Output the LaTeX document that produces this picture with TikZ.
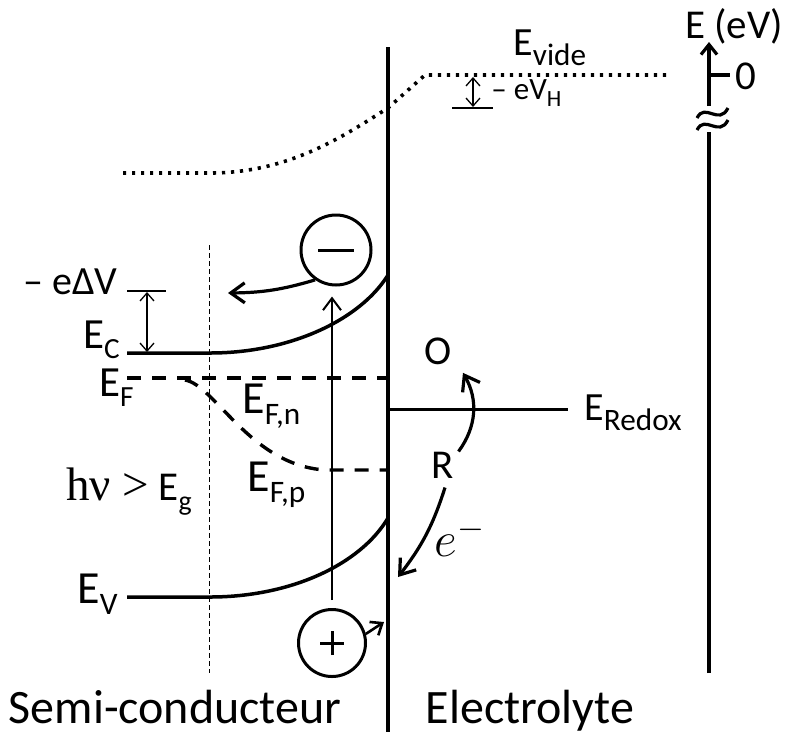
\documentclass[tikz,border=0pt]{standalone}
\usepackage{fontspec}
\setmainfont{Carlito}
\newfontfamily\timesfont{Liberation Serif}
\usetikzlibrary{arrows.meta}
\newcommand{\lsub}[2][0.68]{\raisebox{-0.25em}{\scalebox{#1}{#2}}}

\begin{document}
\begin{tikzpicture}[x=0.5pt, y=-0.5pt, line cap=butt,
  font=\fontsize{23}{27}\selectfont,
  lbl/.style={inner sep=0pt},
  lblmid/.style={font=\fontsize{21.5}{25}\selectfont},
  lblsmall/.style={font=\fontsize{20.5}{24}\selectfont},
  lbltiny/.style={font=\fontsize{15.5}{18}\selectfont},
  band/.style={line width=1.75pt},
  fermi/.style={line width=1.7pt, dash pattern=on 7pt off 5.5pt},
  vacuum/.style={line width=1.8pt, dash pattern=on 1.6pt off 2.9pt},
  charge/.style={circle, draw, line width=1.5pt, inner sep=0pt},
  thinarr/.style={line width=0.65pt, {Straight Barb[length=4pt,width=7pt]}-{Straight Barb[length=4pt,width=7pt]}},
  photon/.style={line width=1pt, -{Straight Barb[length=6pt,width=9pt]}},
  flow/.style={line width=1.6pt, -{Straight Barb[length=7pt,width=10pt]}}]

  \useasboundingbox (0,0) rectangle (792,735);

  % interface semi-conducteur / electrolyte
  \draw[line width=2.2pt] (388,47) -- (388,732);

  % energy axis, broken below the zero
  \coordinate (axbot) at (709,673);
  \coordinate (axlo) at (709,132);
  \coordinate (axhi) at (709,106);
  \coordinate (axtop) at (709,42);
  \draw[line width=1.6pt] (axbot) -- (axlo);
  \draw[line width=1.6pt, -{Straight Barb[length=5pt,width=8pt]}] (axhi) -- (axtop);
  \foreach \dy in {0,12}
    \draw[line width=1.6pt] (697,118+\dy) .. controls (705,102+\dy) and (719,126+\dy) .. (728,108+\dy);
  \node[lbl, lblsmall] (eaxis) at (734,26) {E (eV)};
  \coordinate (zero) at (730,75);
  \draw[line width=1.6pt] (axtop |- zero) -- (zero);
  \node[lbl, lblsmall, anchor=west] (zerol) at (735,76) {0};

  % vacuum level, bent near the interface
  \draw[vacuum] (123,173) -- (210,173) .. controls (290,173) and (345,135) .. (388,108) -- (425,75) -- (670,75);
  \node[lbl, font=\fontsize{20}{24}\selectfont, anchor=base west] (evide) at (513,55) {E\lsub[0.78]{vide}};

  % Helmholtz drop -eV_H
  \coordinate (vhtop) at (473,77);
  \coordinate (vhbot) at (473,107);
  \draw[line width=0.65pt] (452,108) -- (493,108);
  \draw[thinarr] (vhtop) -- (vhbot);
  \node[lbl, lbltiny, anchor=base west] (evh) at (491,99) {– eV\lsub[0.75]{H}};

  % bands in the semiconductor (upward bending)
  \draw[band] (127,353) -- (210,353) .. controls (290,353) and (360,320) .. (388,275);
  \draw[band] (127,597) -- (210,597) .. controls (290,597) and (360,565) .. (388,518);

  % Fermi level and hole quasi-Fermi level
  \draw[fermi] (127,378) -- (388,378);
  \draw[fermi] (185,380) .. controls (215,385) and (250,465) .. (325,470) -- (388,470);

  % edge of the space-charge region
  \draw[line width=0.5pt, dash pattern=on 2.5pt off 1.5pt] (209,245) -- (209,673);

  % band bending -e Delta V
  \coordinate (dvtop) at (147,292);
  \coordinate (dvbot) at (147,352);
  \draw[line width=0.7pt] (127,291) -- (166,291);
  \draw[thinarr] (dvtop) -- (dvbot);

  % level labels
  \node[lbl, font=\fontsize{20}{24}\selectfont, anchor=base east] (dvl) at (118,294) {– eΔV};
  \node[lbl, lblmid, anchor=base east] (ecl) at (120,348) {E\lsub{C}};
  \node[lbl, lblmid, anchor=base east] (efl) at (134,396) {E\lsub{F}};
  \node[lbl, anchor=base east] (evl) at (118,603) {E\lsub{V}};
  \node[lbl, anchor=base west] (efnl) at (242,413) {E\lsub{F,n}};
  \node[lbl, anchor=base west] (efpl) at (247,491) {E\lsub{F,p}};
  \node[lbl, lblsmall, anchor=base west] (hnul) at (66,500) {{\timesfont\fontsize{23.5}{27}\selectfont hν >} E\lsub{g}};

  % photogenerated charges
  \node[charge, minimum size=35pt] (minus) at (336,250) {};
  \draw[line width=1.5pt] ([xshift=-9pt]minus.center) -- ([xshift=9pt]minus.center);
  \node[charge, minimum size=33.5pt] (plus) at (332,643) {};
  \draw[line width=1.5pt] ([xshift=-6pt]plus.center) -- ([xshift=6pt]plus.center)
    ([yshift=-6pt]plus.center) -- ([yshift=6pt]plus.center);

  % excitation, electron to the bulk, hole to the interface
  \draw[photon, shorten <=4pt, shorten >=5pt] (plus.north) -- (plus.north |- minus.south);
  \coordinate (ebulk) at (228,293);
  \draw[flow] (minus.235) to[bend left=8] (ebulk);
  \coordinate (hint) at (384,622);
  \draw[line width=1.3pt, -{Straight Barb[length=5pt,width=8pt]}] (plus.15) -- (hint);

  % redox couple in the electrolyte
  \draw[line width=1.5pt] (388,409) -- (568,409);
  \node[lbl, font=\fontsize{20}{24}\selectfont, anchor=base west] (eredox) at (584,420) {E\lsub[0.78]{Redox}};
  \node[lbl, lblsmall] (ox) at (438,351) {O};
  \node[lbl, lblsmall] (red) at (443,465) {R};
  \draw[flow] ([xshift=2pt]red.north east) to[bend right=33] ([shift={(11,8)}]ox.south east);
  \coordinate (eint) at (398,577);
  \draw[flow] ([shift={(2,9)}]red.south) to[bend left=10] (eint);
  \node[lbl, font=\fontsize{27}{30}\selectfont] (elec) at (460,537) {$e^-$};

  % regions
  \node[lbl, font=\fontsize{24}{28}\selectfont, anchor=base] (sc) at (175,723) {Semi-conducteur};
  \node[lbl, font=\fontsize{24}{28}\selectfont, anchor=base] (el) at (530,723) {Electrolyte};

\end{tikzpicture}
\end{document}
